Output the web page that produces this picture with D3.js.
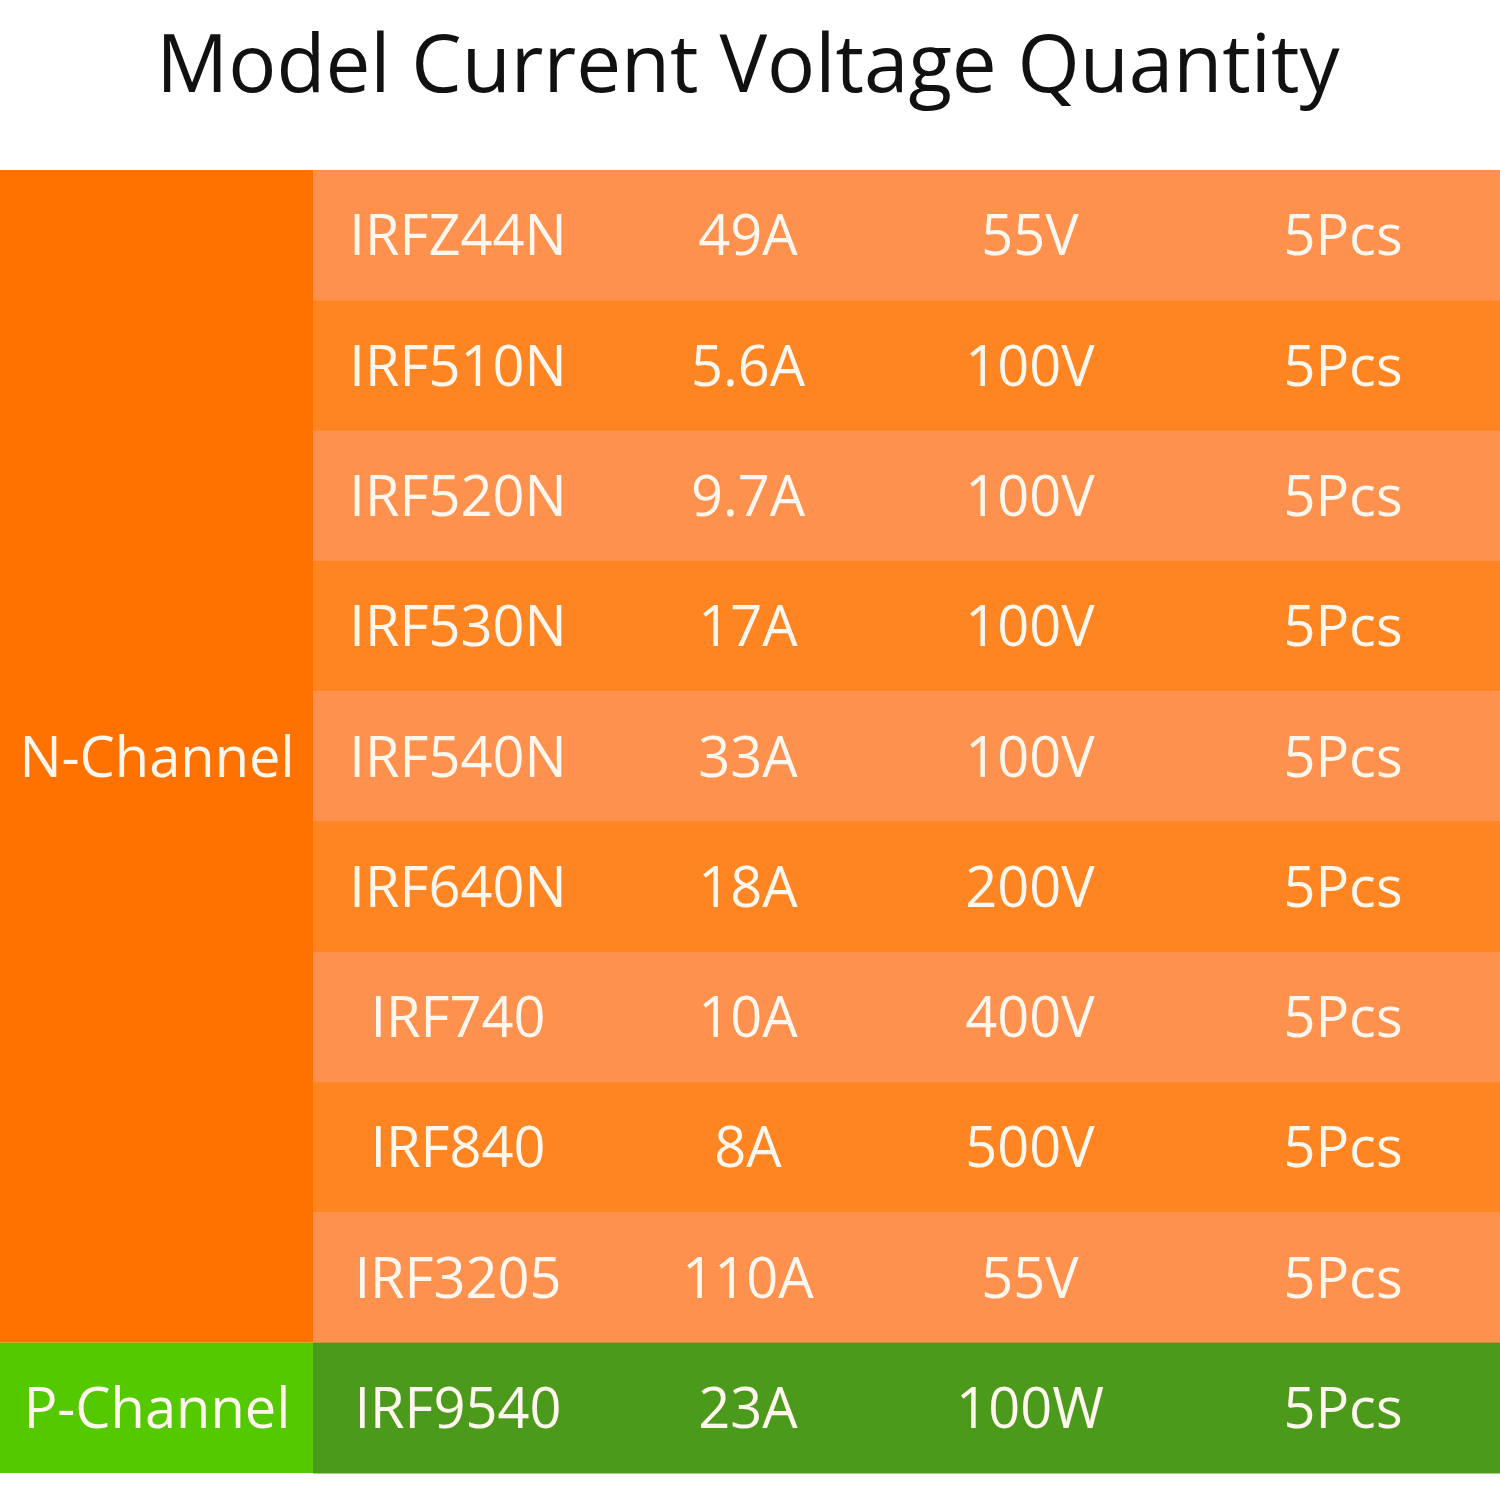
<!DOCTYPE html>
<html><head><meta charset="utf-8">
<script src="https://cdn.jsdelivr.net/npm/d3@7"></script>
<style>body{margin:0;background:#fff}</style></head>
<body><svg id="c" width="1500" height="1500"></svg>
<script>
const title = "Model Current Voltage Quantity";
const models = ["IRFZ44N","IRF510N","IRF520N","IRF530N","IRF540N","IRF640N","IRF740","IRF840","IRF3205","IRF9540"];
const currents = ["49A","5.6A","9.7A","17A","33A","18A","10A","8A","110A","23A"];
const voltages = ["55V","100V","100V","100V","100V","200V","400V","500V","55V","100W"];
const quantities = ["5Pcs","5Pcs","5Pcs","5Pcs","5Pcs","5Pcs","5Pcs","5Pcs","5Pcs","5Pcs"];
const channels = ["N","N","N","N","N","N","N","N","N","P"];
const groups = [{name:"N-Channel",from:0,to:8},{name:"P-Channel",from:9,to:9}];

const svg = d3.select("#c");
const font = "'Open Sans','Noto Sans',sans-serif";
svg.append("text").attr("x",748).attr("y",92).attr("text-anchor","middle")
  .attr("font-family",font).attr("font-size",80).attr("fill","#111").text(title);

const y = d3.scaleBand().domain(d3.range(models.length)).range([170,1473]);
const colX = [458,748,1030,1343];
const rowFill = i => channels[i]==="P" ? "#4b9a1c" : (i%2===0 ? "#ff914f" : "#ff8422");
svg.selectAll("rect.row").data(models).join("rect")
  .attr("x",313).attr("width",1187).attr("y",(d,i)=>y(i)).attr("height",y.bandwidth()+0.5)
  .attr("fill",(d,i)=>rowFill(i));
groups.forEach(g=>{
  const y0=y(g.from), y1=y(g.to)+y.bandwidth();
  svg.append("rect").attr("x",0).attr("width",313).attr("y",y0).attr("height",y1-y0)
    .attr("fill", g.name.startsWith("P")?"#55c900":"#ff7200");
  svg.append("text").attr("x",157).attr("y",(y0+y1)/2).attr("dy","0.36em")
    .attr("text-anchor","middle").attr("font-family",font).attr("font-size",56)
    .attr("fill","#fff6ee").text(g.name);
});
const cols=[models,currents,voltages,quantities];
cols.forEach((arr,c)=>{
  svg.selectAll(null).data(arr).join("text")
    .attr("x",colX[c]).attr("y",(d,i)=>y(i)+y.bandwidth()/2).attr("dy","0.36em")
    .attr("text-anchor","middle").attr("font-family",font).attr("font-size",56)
    .attr("fill","#fff6ee").text(d=>d);
});
</script></body></html>
